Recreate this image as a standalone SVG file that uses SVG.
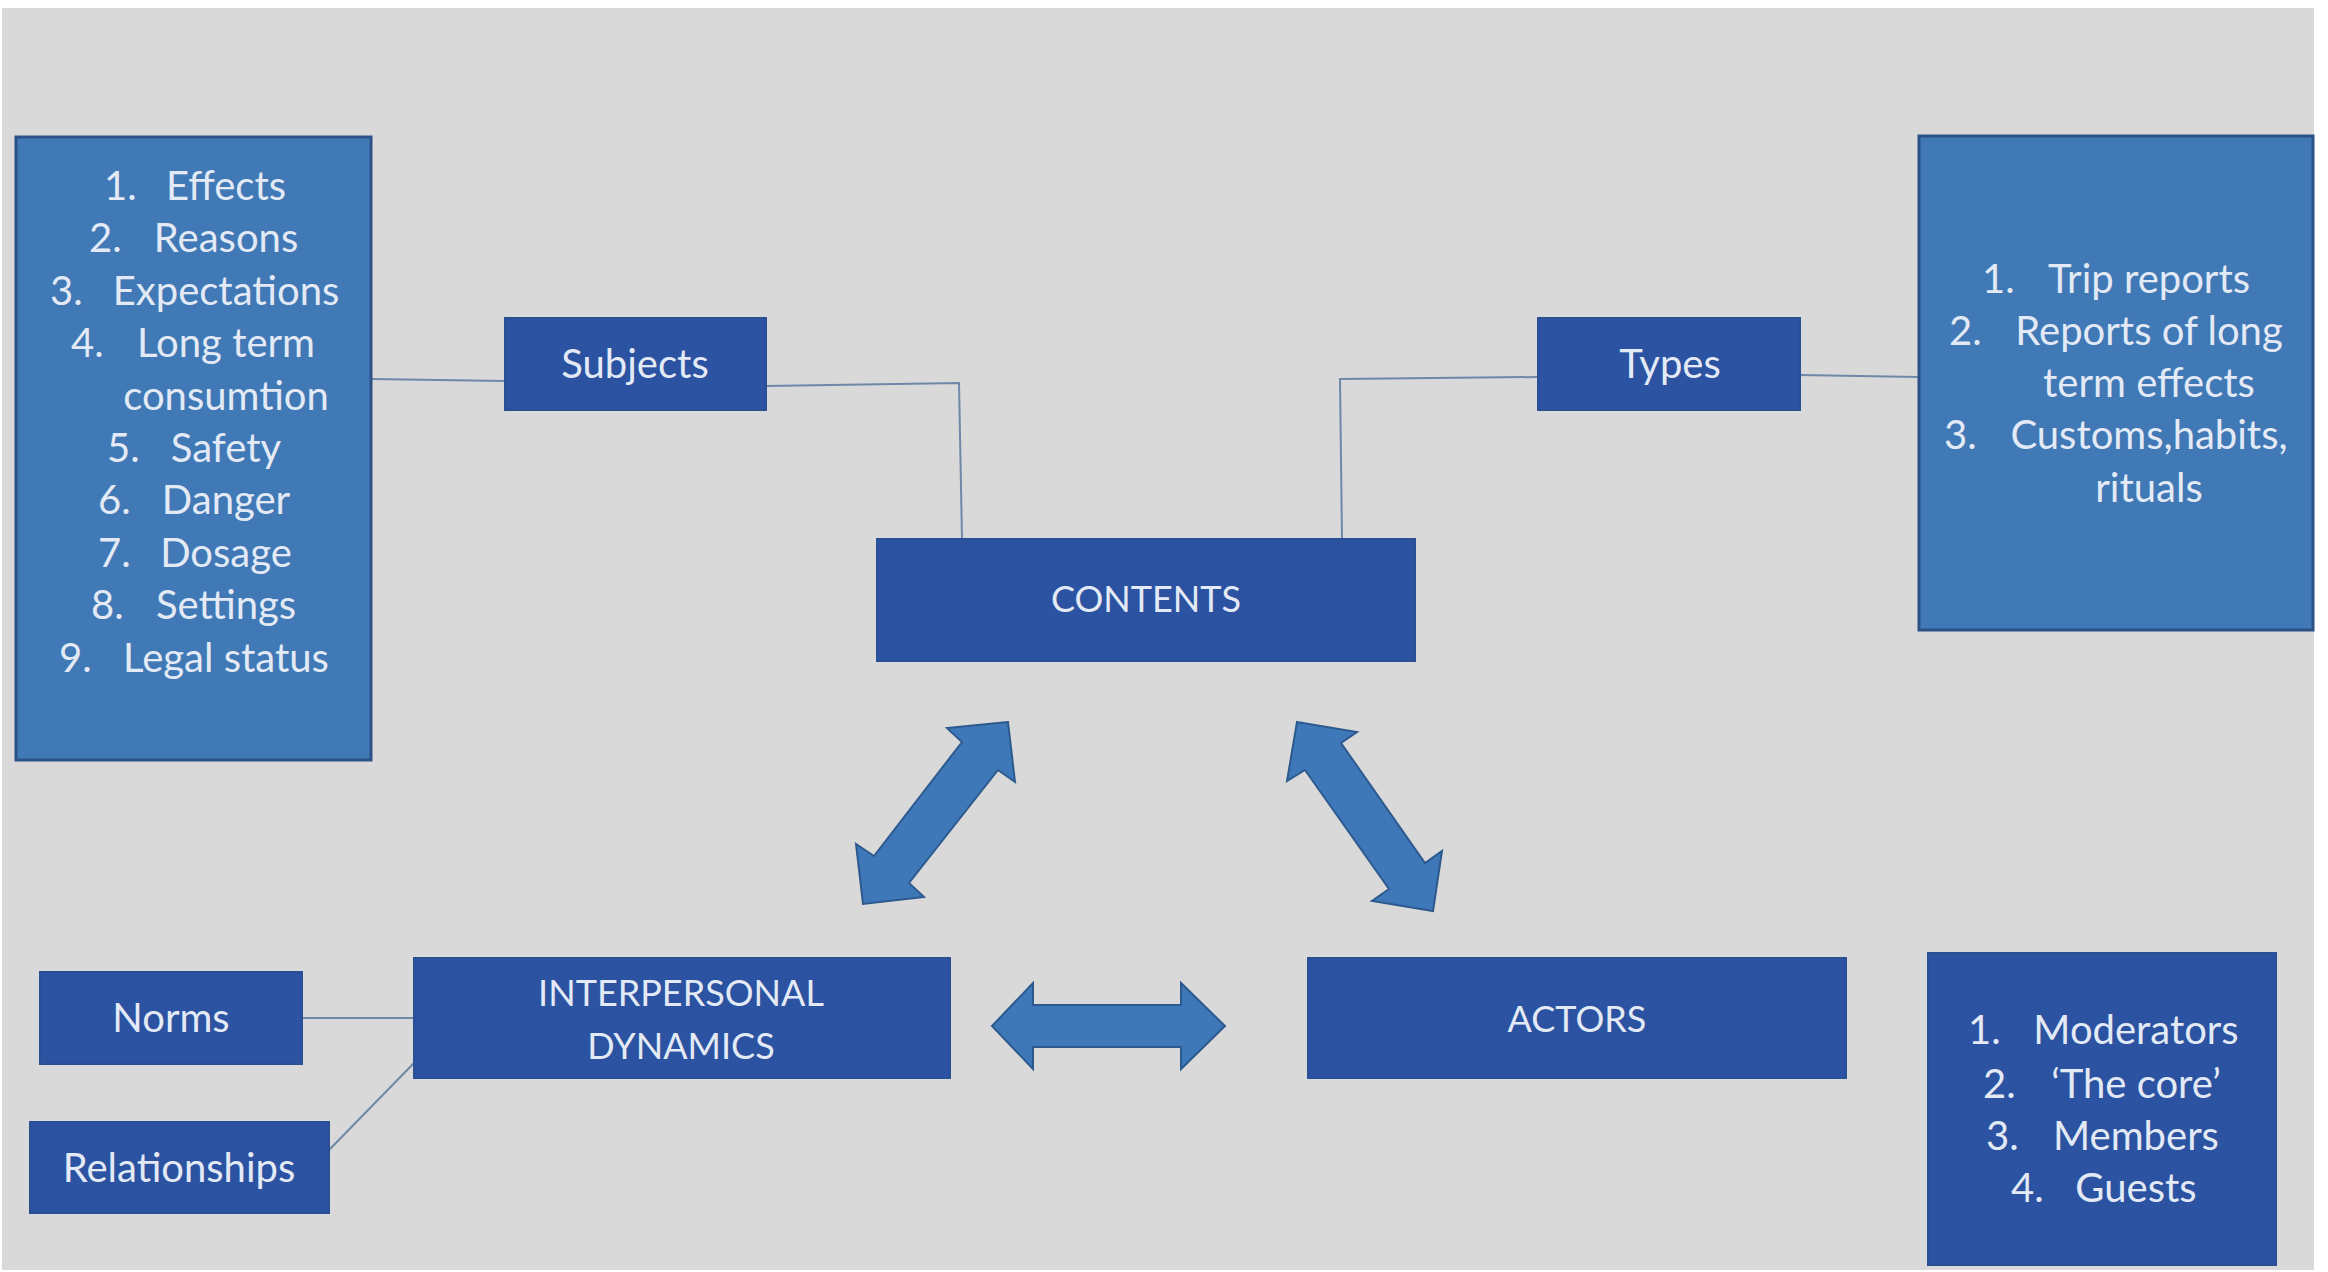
<svg xmlns="http://www.w3.org/2000/svg" width="2328" height="1272" viewBox="0 0 2328 1272">
<defs>
<style>
.bg{fill:#d9d9d9}
.dark{fill:#2b53a1;stroke:#2a4f94;stroke-width:2}
.light{fill:#4079b6;stroke:#2c5187;stroke-width:3}
.arrow{fill:#3f78b8;stroke:#2d5a8e;stroke-width:2;stroke-linejoin:miter}
.conn{fill:none;stroke:#6f88a8;stroke-width:2}
text{font-family:Lato,"Liberation Sans",Arial,sans-serif;font-size:40px;fill:#e3eaf5}
.caps{font-size:36px}
.c{text-anchor:middle}
</style>
</defs>
<rect x="0" y="0" width="2328" height="1272" fill="#ffffff"/>
<rect class="bg" x="2" y="8" width="2312" height="1262"/>

<g id="connectors">
<polyline class="conn" points="371,379 505,381"/>
<polyline class="conn" points="766,386 959,383 962,539"/>
<polyline class="conn" points="1342,539 1340,379 1538,377"/>
<polyline class="conn" points="1800,375 1918,377"/>
<polyline class="conn" points="302,1018 414,1018"/>
<polyline class="conn" points="329,1150 414,1063"/>
</g>

<g id="arrows">
<polygon class="arrow" points="1008,722 947,728 962,742 874,856 856,844 863,904 924,897 909,883 998,770 1015,782"/>
<polygon class="arrow" points="1297,722 1357,732 1341,743 1425,863 1442,851 1433,911 1372,901 1389,889 1305,770 1287,781"/>
<polygon class="arrow" points="992,1026 1033,983 1033,1005 1181,1005 1181,983 1225,1026 1181,1069 1181,1047 1033,1047 1033,1069"/>
</g>

<g id="subjects-list">
<rect class="light" x="16" y="137" width="355" height="623"/>
<text x="104" y="200">1.</text><text class="c" x="226" y="200">Effects</text>
<text x="89" y="252">2.</text><text class="c" x="226" y="252">Reasons</text>
<text x="50" y="305">3.</text><text class="c" x="226" y="305">Expectations</text>
<text x="71" y="357">4.</text><text class="c" x="226" y="357">Long term</text>
<text class="c" x="226" y="410">consumtion</text>
<text x="107" y="462">5.</text><text class="c" x="226" y="462">Safety</text>
<text x="98" y="514">6.</text><text class="c" x="226" y="514">Danger</text>
<text x="98" y="567">7.</text><text class="c" x="226" y="567">Dosage</text>
<text x="91" y="619">8.</text><text class="c" x="226" y="619">Settings</text>
<text x="59" y="672">9.</text><text class="c" x="226" y="672">Legal status</text>
</g>

<g id="subjects">
<rect class="dark" x="505" y="318" width="261" height="92"/>
<text class="c" x="635" y="378">Subjects</text>
</g>

<g id="types">
<rect class="dark" x="1538" y="318" width="262" height="92"/>
<text class="c" x="1670" y="378">Types</text>
</g>

<g id="types-list">
<rect class="light" x="1919" y="136" width="394" height="494"/>
<text x="1982" y="293">1.</text><text class="c" x="2149" y="293">Trip reports</text>
<text x="1949" y="345">2.</text><text class="c" x="2149" y="345">Reports of long</text>
<text class="c" x="2149" y="397">term effects</text>
<text x="1944" y="449">3.</text><text class="c" x="2149" y="449">Customs,habits,</text>
<text class="c" x="2149" y="502">rituals</text>
</g>

<g id="contents">
<rect class="dark" x="877" y="539" width="538" height="122"/>
<text class="c caps" x="1146" y="612">CONTENTS</text>
</g>

<g id="interpersonal">
<rect class="dark" x="414" y="958" width="536" height="120"/>
<text class="c caps" x="681" y="1006">INTERPERSONAL</text>
<text class="c caps" x="681" y="1059">DYNAMICS</text>
</g>

<g id="actors">
<rect class="dark" x="1308" y="958" width="538" height="120"/>
<text class="c caps" x="1577" y="1032">ACTORS</text>
</g>

<g id="norms">
<rect class="dark" x="40" y="972" width="262" height="92"/>
<text class="c" x="171" y="1032">Norms</text>
</g>

<g id="relationships">
<rect class="dark" x="30" y="1122" width="299" height="91"/>
<text class="c" x="179" y="1182">Relationships</text>
</g>

<g id="actors-list">
<rect class="dark" x="1928" y="953" width="348" height="312"/>
<text x="1968" y="1044">1.</text><text class="c" x="2136" y="1044">Moderators</text>
<text x="1983" y="1098">2.</text><text class="c" x="2136" y="1098">‘The core’</text>
<text x="1986" y="1150">3.</text><text class="c" x="2136" y="1150">Members</text>
<text x="2011" y="1202">4.</text><text class="c" x="2136" y="1202">Guests</text>
</g>
</svg>
